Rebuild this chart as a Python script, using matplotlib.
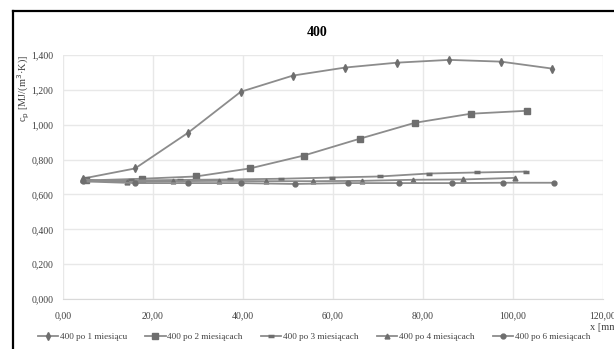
import matplotlib
matplotlib.use("Agg")
import matplotlib.pyplot as plt
from matplotlib.lines import Line2D
from matplotlib.ticker import FuncFormatter

plt.rcParams['font.family'] = ['Liberation Serif', 'DejaVu Serif']

# Data
x1 = [4.4, 16.0, 27.8, 39.5, 51.1, 62.7, 74.2, 85.8, 97.3, 108.7]
y1 = [0.691, 0.749, 0.954, 1.189, 1.282, 1.328, 1.356, 1.372, 1.362, 1.322]

x2 = [5.0, 17.5, 29.5, 41.5, 53.5, 66.0, 78.2, 90.6, 103.1]
y2 = [0.680, 0.690, 0.703, 0.749, 0.823, 0.920, 1.011, 1.063, 1.080]

x3 = [4.5, 15.2, 26.0, 37.0, 48.5, 59.7, 70.4, 81.3, 92.0, 102.9]
y3 = [0.675, 0.680, 0.683, 0.686, 0.690, 0.697, 0.703, 0.720, 0.726, 0.731]

x4 = [4.4, 14.2, 24.4, 34.7, 45.0, 55.6, 66.5, 77.7, 88.9, 100.4]
y4 = [0.686, 0.672, 0.676, 0.678, 0.676, 0.676, 0.678, 0.684, 0.686, 0.695]

x5 = [4.5, 16.0, 27.8, 39.6, 51.6, 63.3, 74.7, 86.4, 97.8, 109.1]
y5 = [0.675, 0.665, 0.665, 0.665, 0.660, 0.665, 0.665, 0.665, 0.667, 0.667]

labels = ["400 po 1 miesiącu", "400 po 2 miesiącach", "400 po 3 miesiącach",
          "400 po 4 miesiącach", "400 po 6 miesiącach"]
title = "400"

fig = plt.figure(figsize=(6.14, 3.49), dpi=100)
ax = fig.add_axes([63/614, 1-299/349, 540/614, 244/349])

line_c = '#8c8c8c'
mk_c = '#6e6e6e'
series = [
    (x1, y1, dict(marker='d', markersize=4)),
    (x2, y2, dict(marker='s', markersize=4)),
    (x3, y3, dict(marker='_', markersize=4.5, markeredgewidth=2.5)),
    (x4, y4, dict(marker='^', markersize=3.5)),
    (x5, y5, dict(marker='o', markersize=3.5)),
]
handles = []
for (xs, ys, st), lab in zip(series, labels):
    h, = ax.plot(xs, ys, color=line_c, lw=1.3, markerfacecolor=mk_c,
                 markeredgecolor=mk_c, label=lab, **st)
    handles.append(h)

ax.set_xlim(0, 120)
ax.set_ylim(0, 1.4)
ax.set_xticks(range(0, 121, 20))
ax.set_yticks([0, 0.2, 0.4, 0.6, 0.8, 1.0, 1.2, 1.4])
ax.xaxis.set_major_formatter(FuncFormatter(lambda v, p: f"{v:.2f}".replace('.', ',')))
ax.yaxis.set_major_formatter(FuncFormatter(lambda v, p: f"{v:.3f}".replace('.', ',')))
ax.grid(True, color='#e8e8e8', lw=1)
ax.set_axisbelow(True)
for s in ['top', 'right', 'left']:
    ax.spines[s].set_visible(False)
ax.spines['bottom'].set_color('#d9d9d9')
ax.tick_params(length=0, labelsize=7, colors='#404040')
ax.tick_params(axis='y', pad=7)
ax.tick_params(axis='x', pad=9)

fig.text(317/614, 1-32/349, title, ha='center', va='center', fontsize=10, fontweight='bold')
fig.text(24/614, 1-88/349, r"c$_{\mathrm{p}}$ [MJ/(m$^{3}$·K)]", rotation=90,
         ha='center', va='center', fontsize=7.5, color='#404040')
fig.text(590/614, 1-327/349, "x [mm]", ha='left', va='center', fontsize=7.5, color='#404040')

fig.legend(handles=handles, loc='center', bbox_to_anchor=(314/614, 1-337/349), ncol=5,
           frameon=False, fontsize=6.6, handlelength=2.2, columnspacing=2.0,
           handletextpad=0.2, labelcolor='#404040')

# black frame
fig.add_artist(Line2D([13/614, 13/614], [0, 1-11/349], transform=fig.transFigure,
                      color='black', lw=1.6))
fig.add_artist(Line2D([13/614, 1], [1-11/349, 1-11/349], transform=fig.transFigure,
                      color='black', lw=1.6))

fig.savefig("out.png", dpi=100)
